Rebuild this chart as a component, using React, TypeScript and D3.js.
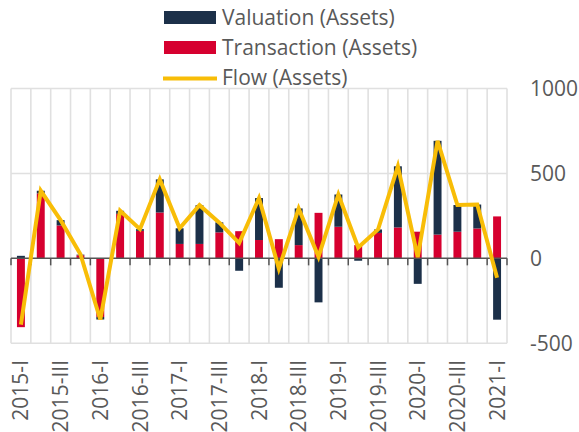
import * as d3 from "d3";

const quarters = [
  "2015-I", "2015-II", "2015-III", "2015-IV",
  "2016-I", "2016-II", "2016-III", "2016-IV",
  "2017-I", "2017-II", "2017-III", "2017-IV",
  "2018-I", "2018-II", "2018-III", "2018-IV",
  "2019-I", "2019-II", "2019-III", "2019-IV",
  "2020-I", "2020-II", "2020-III", "2020-IV",
  "2021-I",
];
const transaction = [
  -405, 382, 194, 18, -345, 262, 162, 270, 85, 85, 153, 160, 108,
  113, 78, 268, 186, 78, 150, 182, 157, 140, 157, 176, 247,
];
const valuation = [
  15, 16, 31, 4, -15, 18, 10, 195, 92, 228, 59, -73, 247,
  -173, 216, -259, 190, -14, 20, 360, -150, 552, 157, 141, -361,
];
const flow = [
  -390, 398, 225, 24, -360, 280, 172, 465, 177, 313, 210, 90, 355,
  -60, 294, 9, 376, 64, 170, 542, 7, 692, 314, 317, -114,
];
const yTicks = [-500, 0, 500, 1000];

const NAVY = "#1c3049";
const RED = "#d6002f";
const YELLOW = "#f8bd07";
const GRID = "#e0e0e0";
const TEXT = "#595959";
const FONT = "'Open Sans', sans-serif";

export default function App() {
  const width = 579;
  const height = 432;
  const left = 11;
  const right = 507;
  const top = 88.5;
  const bottom = 343.3;

  const x = d3.scaleBand<string>().domain(quarters).range([left, right]);
  const y = d3.scaleLinear().domain([-500, 1000]).range([bottom, top]);
  const bw = x.bandwidth();
  const barW = bw * 0.4;

  const rows = quarters.map((q, i) => ({
    q,
    Transaction: transaction[i],
    Valuation: valuation[i],
  }));
  const series = d3
    .stack<any>()
    .keys(["Transaction", "Valuation"])
    .offset(d3.stackOffsetDiverging)(rows);
  const colors = [RED, NAVY];

  const line = d3
    .line<number>()
    .x((_, i) => (x(quarters[i]) as number) + bw / 2)
    .y((d) => y(d));

  const bounds = quarters.map((q) => x(q) as number).concat([right]);

  const legend = [
    { label: "Valuation (Assets)", color: NAVY, kind: "rect" },
    { label: "Transaction (Assets)", color: RED, kind: "rect" },
    { label: "Flow (Assets)", color: YELLOW, kind: "line" },
  ];

  return (
    <svg
      width={width}
      height={height}
      style={{ position: "absolute", left: 0, top: 0 }}
      fontFamily={FONT}
    >
      {/* grid */}
      <g stroke={GRID} strokeWidth={1.6}>
        {bounds.map((bx, i) => (
          <line key={i} x1={bx} x2={bx} y1={top} y2={bottom} />
        ))}
        {yTicks
          .filter((t) => t !== 0)
          .map((t) => (
            <line key={t} x1={left} x2={right} y1={y(t)} y2={y(t)} />
          ))}
      </g>

      {/* bars */}
      {series.map((s, si) => (
        <g key={s.key} fill={colors[si]}>
          {s.map((d, i) => {
            const y0 = y(d[0]);
            const y1 = y(d[1]);
            return (
              <rect
                key={i}
                x={(x(quarters[i]) as number) + (bw - barW) / 2}
                y={Math.min(y0, y1)}
                width={barW}
                height={Math.abs(y0 - y1)}
              />
            );
          })}
        </g>
      ))}

      {/* zero axis */}
      <g stroke="#555" strokeWidth={1.5}>
        <line x1={left} x2={right} y1={y(0)} y2={y(0)} />
        {bounds.map((bx, i) => (
          <line key={i} x1={bx} x2={bx} y1={y(0)} y2={y(0) + 7} />
        ))}
      </g>

      {/* flow */}
      <path
        d={line(flow) ?? ""}
        fill="none"
        stroke={YELLOW}
        strokeWidth={4}
        strokeLinejoin="miter"
      />

      {/* y labels */}
      <g fill={TEXT} fontSize={21}>
        {yTicks.map((t) => (
          <text key={t} x={530} y={y(t)} dy="0.36em">
            {t}
          </text>
        ))}
      </g>

      {/* x labels */}
      <g fill={TEXT} fontSize={21}>
        {quarters.map((q, i) =>
          i % 2 === 0 ? (
            <text
              key={q}
              transform={`translate(${(x(q) as number) + bw / 2},360) rotate(-90)`}
              textAnchor="end"
              dy="0.36em"
            >
              {q}
            </text>
          ) : null
        )}
      </g>

      {/* legend */}
      <g fontSize={21} fill={TEXT}>
        {legend.map((l, i) => {
          const cy = 17.5 + i * 30;
          return (
            <g key={l.label}>
              {l.kind === "rect" ? (
                <rect x={164} y={cy - 6.5} width={52} height={13} fill={l.color} />
              ) : (
                <line
                  x1={163}
                  x2={217}
                  y1={cy + 1}
                  y2={cy + 1}
                  stroke={l.color}
                  strokeWidth={4}
                />
              )}
              <text x={222} y={cy + 7}>
                {l.label}
              </text>
            </g>
          );
        })}
      </g>
    </svg>
  );
}
